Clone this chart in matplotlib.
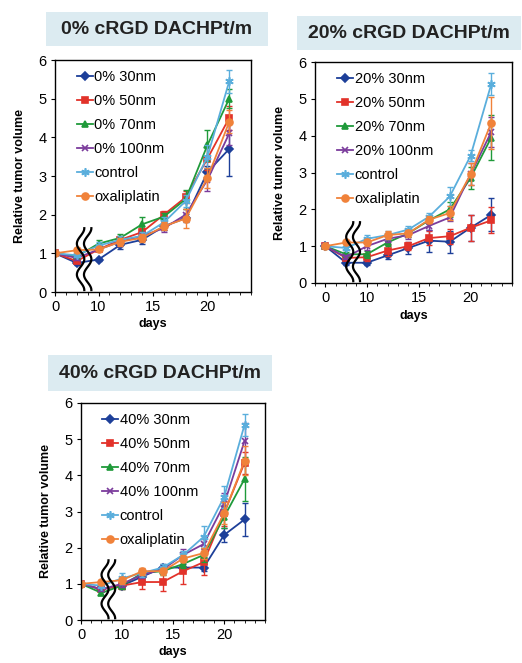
import numpy as np
import matplotlib
matplotlib.use("Agg")
import matplotlib.pyplot as plt
from matplotlib.patches import Rectangle

plt.rcParams["font.family"] = ["Liberation Sans", "DejaVu Sans"]

# measurement days (first point is labelled "0" on the axis)
days = [6, 8, 10, 12, 14, 16, 18, 20, 22]

series_names = ["30nm", "50nm", "70nm", "100nm", "control", "oxaliplatin"]

# 0% cRGD
p0_30 = [1.0, 0.75, 0.84, 1.22, 1.35, 1.70, 1.91, 3.10, 3.70]
p0_50 = [1.0, 0.80, 1.10, 1.35, 1.55, 2.00, 2.45, 3.45, 4.50]
p0_70 = [1.0, 0.92, 1.25, 1.40, 1.75, 1.95, 2.40, 3.80, 5.00]
p0_100 = [1.0, 0.88, 1.10, 1.30, 1.45, 1.65, 2.00, 2.90, 4.10]
p0_ctl = [1.0, 0.95, 1.20, 1.35, 1.45, 1.80, 2.35, 3.50, 5.45]
p0_oxa = [1.0, 1.08, 1.10, 1.30, 1.40, 1.70, 1.90, 2.95, 4.40]
e0_30 = [0.03, 0.05, 0.05, 0.10, 0.12, 0.10, 0.10, 0.15, 0.70]
e0_50 = [0.03, 0.05, 0.05, 0.10, 0.10, 0.10, 0.15, 0.30, 0.30]
e0_70 = [0.03, 0.05, 0.10, 0.10, 0.20, 0.10, 0.25, 0.40, 0.25]
e0_100 = [0.03, 0.05, 0.05, 0.10, 0.10, 0.10, 0.15, 0.30, 0.30]
e0_ctl = [0.03, 0.05, 0.10, 0.10, 0.10, 0.15, 0.15, 0.30, 0.30]
e0_oxa = [0.03, 0.05, 0.05, 0.10, 0.10, 0.10, 0.25, 0.25, 0.30]

# 20% cRGD
p20_30 = [1.0, 0.55, 0.55, 0.75, 0.95, 1.15, 1.12, 1.50, 1.85]
p20_50 = [1.0, 0.68, 0.70, 0.88, 1.00, 1.22, 1.27, 1.50, 1.70]
p20_70 = [1.0, 0.78, 0.78, 1.10, 1.35, 1.70, 2.00, 2.85, 3.95]
p20_100 = [1.0, 0.70, 1.00, 1.20, 1.30, 1.55, 1.78, 2.95, 4.10]
p20_ctl = [1.0, 0.95, 1.20, 1.30, 1.45, 1.80, 2.35, 3.45, 5.40]
p20_oxa = [1.0, 1.10, 1.10, 1.30, 1.35, 1.72, 1.90, 2.95, 4.35]
e20_30 = [0.03, 0.05, 0.05, 0.10, 0.15, 0.30, 0.30, 0.35, 0.45]
e20_50 = [0.03, 0.05, 0.10, 0.15, 0.10, 0.20, 0.20, 0.35, 0.35]
e20_70 = [0.03, 0.05, 0.10, 0.10, 0.10, 0.10, 0.20, 0.30, 0.60]
e20_100 = [0.03, 0.05, 0.10, 0.10, 0.10, 0.10, 0.10, 0.30, 0.40]
e20_ctl = [0.03, 0.05, 0.10, 0.10, 0.10, 0.10, 0.25, 0.15, 0.30]
e20_oxa = [0.03, 0.05, 0.10, 0.10, 0.10, 0.10, 0.20, 0.30, 0.70]

# 40% cRGD
p40_30 = [1.0, 0.85, 0.95, 1.20, 1.45, 1.45, 1.45, 2.35, 2.78]
p40_50 = [1.0, 0.85, 0.95, 1.05, 1.05, 1.35, 1.60, 2.95, 4.35]
p40_70 = [1.0, 0.75, 0.95, 1.30, 1.35, 1.55, 1.80, 2.85, 3.90]
p40_100 = [1.0, 0.85, 1.00, 1.25, 1.40, 1.80, 2.10, 3.20, 4.95]
p40_ctl = [1.0, 0.95, 1.15, 1.30, 1.45, 1.80, 2.30, 3.40, 5.40]
p40_oxa = [1.0, 1.05, 1.10, 1.35, 1.35, 1.70, 1.85, 2.95, 4.40]
e40_30 = [0.03, 0.05, 0.10, 0.10, 0.10, 0.10, 0.10, 0.20, 0.45]
e40_50 = [0.03, 0.05, 0.10, 0.20, 0.25, 0.35, 0.35, 0.35, 0.30]
e40_70 = [0.03, 0.05, 0.10, 0.10, 0.10, 0.10, 0.20, 0.30, 0.60]
e40_100 = [0.03, 0.05, 0.10, 0.10, 0.10, 0.15, 0.15, 0.30, 0.50]
e40_ctl = [0.03, 0.05, 0.15, 0.10, 0.10, 0.10, 0.30, 0.30, 0.30]
e40_oxa = [0.03, 0.05, 0.10, 0.10, 0.10, 0.10, 0.15, 0.30, 0.40]

xtick_pos = [6, 10, 15, 20]
xtick_lbl = ["0", "10", "15", "20"]

colors = ["#1d3f99", "#e2322a", "#1f9a3a", "#7b3c9c", "#5aaedc", "#f0823a"]
markers = ["D", "s", "^", "x", (6, 2, 0), "o"]
msizes = [4, 5, 5, 5, 6, 5]


def draw_panel(fig, rect, title, title_box, pct, values, errs, xmin):
    ax = fig.add_axes(rect)
    for i, (v, e) in enumerate(zip(values, errs)):
        name = series_names[i]
        label = f"{pct} {name}" if i < 4 else name
        ax.errorbar(days, v, yerr=e, fmt="none", ecolor=colors[i],
                    elinewidth=1.0, capsize=2)
        ax.plot(days, v, color=colors[i], marker=markers[i], ms=msizes[i],
                lw=1.3, mew=1.2, label=label)
    ax.set_xlim(xmin, 24)
    ax.set_ylim(0, 6)
    ax.set_yticks(range(7))
    ax.set_xticks(xtick_pos)
    ax.set_xticklabels(xtick_lbl)
    ax.set_xticks(range(int(np.ceil(xmin)), 25), minor=True)
    ax.tick_params(axis="both", labelsize=10.5, length=3, width=0.8, pad=3)
    ax.tick_params(axis="x", which="minor", length=2, width=0.6)
    for s in ax.spines.values():
        s.set_linewidth(1.0)
    ax.set_xlabel("days", fontsize=9, fontweight="bold", labelpad=3)
    ax.set_ylabel("Relative tumor volume", fontsize=9, fontweight="bold", labelpad=9)

    # axis-break wavy lines
    yy = np.linspace(0.05, 1.65, 100)
    for off in (0.0, 0.65):
        xx = 8.35 + off + 0.34 * np.cos(2 * np.pi * (1.65 - yy) / 0.8)
        ax.plot(xx, yy, color="black", lw=1.6, zorder=5)

    ax.legend(loc="upper left", frameon=False, fontsize=10.5, handlelength=1.1,
              handletextpad=0.1, labelspacing=0.68, borderaxespad=0.3,
              bbox_to_anchor=(0.06, 1.0))

    bx, by, bw, bh = title_box
    fig.patches.append(Rectangle((bx, by), bw, bh, transform=fig.transFigure,
                                 facecolor="#dcebf1", edgecolor="none", zorder=0))
    fig.text(bx + bw / 2, by + bh / 2, title, ha="center", va="center",
             fontsize=14, fontweight="bold", color="#222222")
    return ax


W, H = 522, 663
fig = plt.figure(figsize=(W / 100, H / 100), dpi=100)


def frac(x0, y0, x1, y1):
    return [x0 / W, 1 - y1 / H, (x1 - x0) / W, (y1 - y0) / H]


draw_panel(fig, frac(55, 60, 251, 292), "0% cRGD DACHPt/m", frac(46, 12, 268, 46), "0%",
           [p0_30, p0_50, p0_70, p0_100, p0_ctl, p0_oxa],
           [e0_30, e0_50, e0_70, e0_100, e0_ctl, e0_oxa], 6)
draw_panel(fig, frac(315, 62, 512, 283), "20% cRGD DACHPt/m", frac(297, 16, 521, 50), "20%",
           [p20_30, p20_50, p20_70, p20_100, p20_ctl, p20_oxa],
           [e20_30, e20_50, e20_70, e20_100, e20_ctl, e20_oxa], 5)
draw_panel(fig, frac(81, 403, 265, 620), "40% cRGD DACHPt/m", frac(48, 355, 272, 391), "40%",
           [p40_30, p40_50, p40_70, p40_100, p40_ctl, p40_oxa],
           [e40_30, e40_50, e40_70, e40_100, e40_ctl, e40_oxa], 6)

fig.savefig("out.png", dpi=100)
